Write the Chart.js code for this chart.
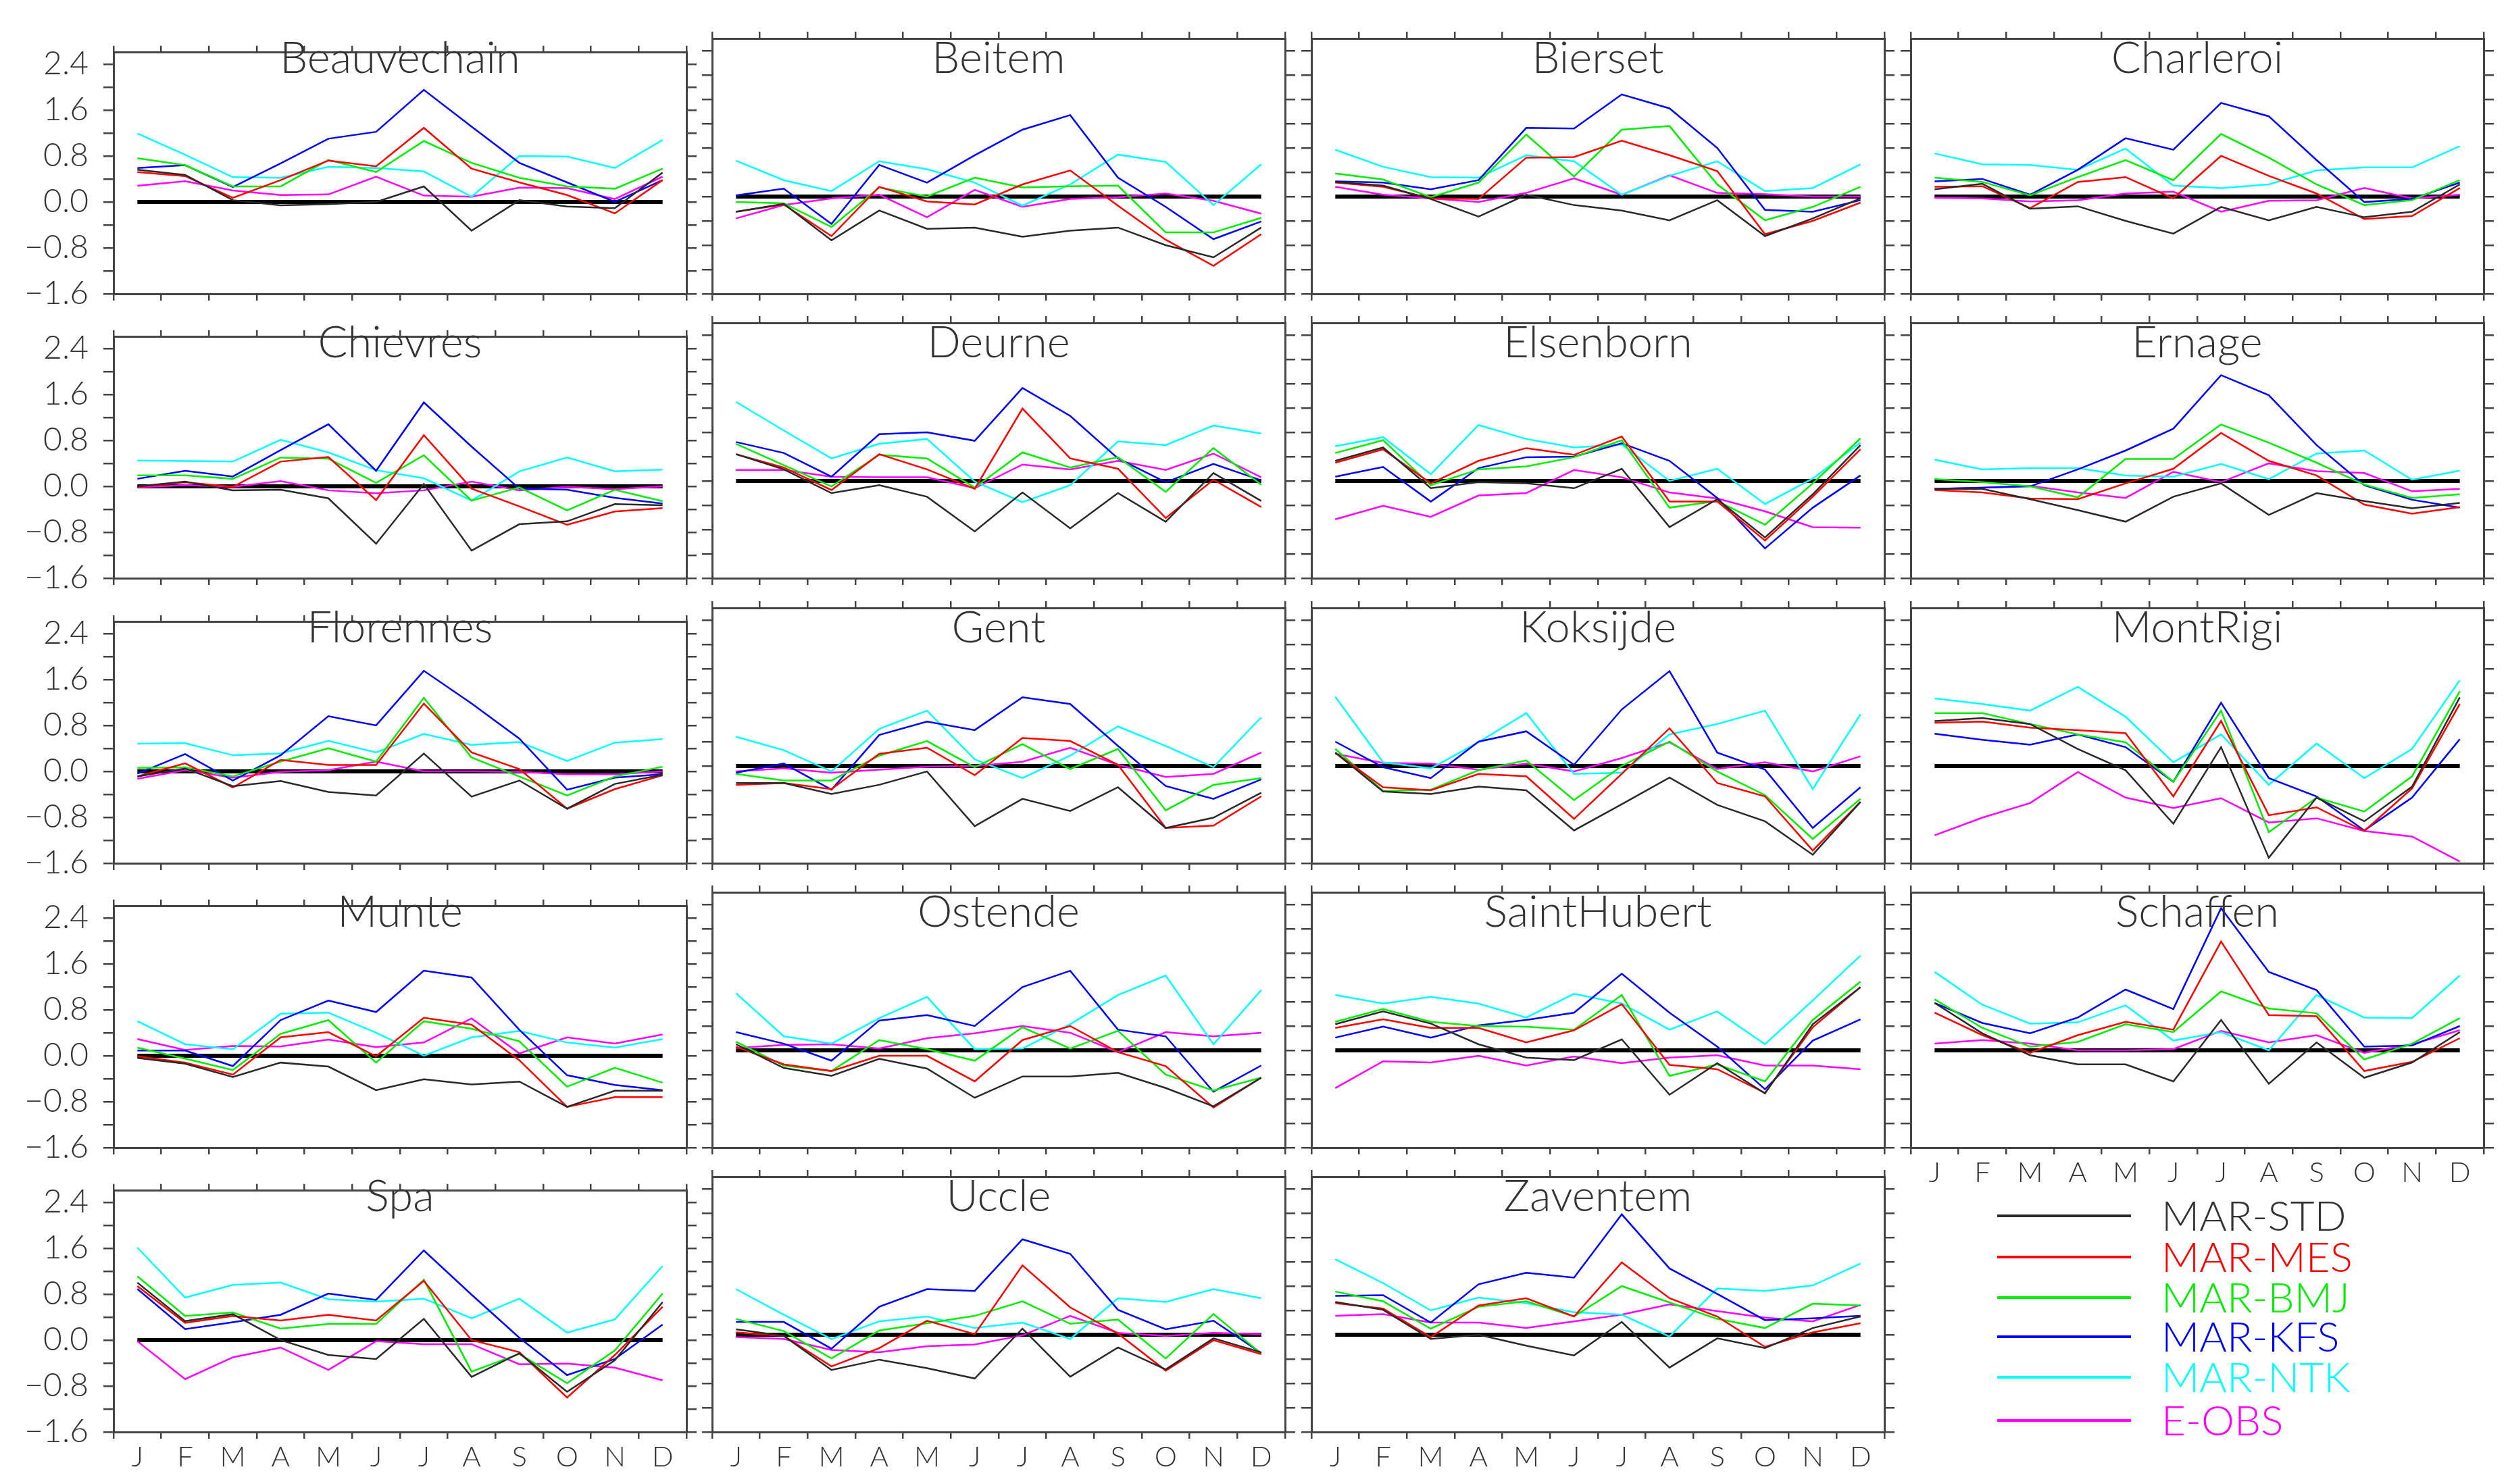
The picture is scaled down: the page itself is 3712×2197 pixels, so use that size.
<!DOCTYPE html>
<html>
<head>
<meta charset="utf-8">
<script src="https://cdn.jsdelivr.net/npm/chart.js@4.4.1/dist/chart.umd.min.js"></script>
<style>
  body { margin: 0; background: #fff; width: 3712px; height: 2197px; position: relative; overflow: hidden; font-family: Lato, "DejaVu Sans", sans-serif; }
  canvas { position: absolute; }
  .title { position: absolute; text-align: center; font-size: 65px; font-weight: 300; color: #333; line-height: 65px; white-space: nowrap; }
  .leg-line { position: absolute; height: 4px; }
  .leg-text { position: absolute; font-size: 62px; font-weight: 300; line-height: 62px; white-space: nowrap; }
</style>
</head>
<body>
<script>
const months = ['J', 'F', 'M', 'A', 'M', 'J', 'J', 'A', 'S', 'O', 'N', 'D'];
const seriesNames = ['MAR-STD', 'MAR-MES', 'MAR-BMJ', 'MAR-KFS', 'MAR-NTK', 'E-OBS'];
const seriesColors = ['#2a2a2a', '#ff0000', '#00ee00', '#0000ff', '#00ffff', '#ff00ff'];
const yTicks = [-1.6, -1.2, -0.8, -0.4, 0.0, 0.4, 0.8, 1.2, 1.6, 2.0, 2.4];
const zeroLine = [0, 0, 0, 0, 0, 0, 0, 0, 0, 0, 0, 0];
const stations = ['Beauvechain', 'Beitem', 'Bierset', 'Charleroi', 'Chievres', 'Deurne', 'Elsenborn', 'Ernage',
  'Florennes', 'Gent', 'Koksijde', 'MontRigi', 'Munte', 'Ostende', 'SaintHubert', 'Schaffen', 'Spa', 'Uccle', 'Zaventem'];

// rows: MAR-STD, MAR-MES, MAR-BMJ, MAR-KFS, MAR-NTK, E-OBS
const beauvechain = [
  [0.56, 0.47, 0.03, -0.06, -0.04, 0.00, 0.27, -0.50, 0.03, -0.08, -0.11, 0.51],
  [0.52, 0.45, 0.07, 0.38, 0.72, 0.62, 1.29, 0.58, 0.34, 0.12, -0.20, 0.38],
  [0.76, 0.64, 0.27, 0.27, 0.73, 0.52, 1.06, 0.68, 0.42, 0.27, 0.23, 0.58],
  [0.59, 0.64, 0.26, 0.67, 1.10, 1.22, 1.95, 1.31, 0.68, 0.34, 0.00, 0.38],
  [1.19, 0.82, 0.43, 0.42, 0.61, 0.59, 0.53, 0.09, 0.80, 0.79, 0.59, 1.08],
  [0.28, 0.36, 0.20, 0.12, 0.13, 0.44, 0.11, 0.09, 0.25, 0.24, 0.05, 0.44]
];
const beitem = [
  [-0.25, -0.12, -0.72, -0.23, -0.53, -0.51, -0.66, -0.56, -0.51, -0.80, -1.00, -0.51],
  [-0.25, -0.13, -0.65, 0.16, -0.08, -0.13, 0.20, 0.43, -0.15, -0.71, -1.14, -0.62],
  [-0.09, -0.11, -0.50, 0.15, 0.00, 0.31, 0.15, 0.17, 0.18, -0.59, -0.59, -0.35],
  [0.02, 0.13, -0.45, 0.52, 0.23, 0.68, 1.10, 1.34, 0.31, -0.17, -0.70, -0.41],
  [0.59, 0.27, 0.09, 0.58, 0.45, 0.23, -0.15, 0.20, 0.69, 0.57, -0.14, 0.53],
  [-0.36, -0.14, -0.03, 0.03, -0.34, 0.11, -0.17, -0.04, -0.01, 0.05, -0.07, -0.28]
];
const bierset = [
  [0.24, 0.18, -0.04, -0.33, 0.03, -0.14, -0.23, -0.39, -0.06, -0.65, -0.36, -0.03],
  [0.23, 0.16, -0.03, -0.04, 0.64, 0.65, 0.92, 0.68, 0.42, -0.62, -0.40, -0.10],
  [0.38, 0.28, -0.01, 0.23, 1.02, 0.33, 1.10, 1.16, 0.20, -0.39, -0.17, 0.16],
  [0.25, 0.23, 0.12, 0.27, 1.13, 1.12, 1.68, 1.45, 0.80, -0.22, -0.25, -0.06],
  [0.77, 0.49, 0.32, 0.31, 0.68, 0.58, 0.03, 0.34, 0.58, 0.09, 0.14, 0.53],
  [0.16, 0.03, -0.03, -0.09, 0.06, 0.30, 0.03, 0.35, 0.06, 0.04, 0.00, 0.00]
];
const charleroi = [
  [0.12, 0.21, -0.20, -0.16, -0.40, -0.61, -0.17, -0.39, -0.17, -0.34, -0.25, 0.20],
  [0.16, 0.17, -0.19, 0.24, 0.32, -0.03, 0.67, 0.34, 0.05, -0.37, -0.32, 0.14],
  [0.31, 0.24, 0.02, 0.32, 0.60, 0.27, 1.03, 0.64, 0.20, -0.14, -0.06, 0.27],
  [0.25, 0.29, 0.03, 0.44, 0.96, 0.77, 1.54, 1.32, 0.60, -0.09, -0.04, 0.23],
  [0.71, 0.53, 0.52, 0.44, 0.79, 0.18, 0.14, 0.20, 0.43, 0.48, 0.48, 0.83],
  [-0.02, -0.03, -0.08, -0.06, 0.05, 0.08, -0.25, -0.07, -0.06, 0.14, -0.03, 0.03]
];
const chievres = [
  [0.00, 0.08, -0.07, -0.06, -0.21, -1.00, 0.04, -1.12, -0.66, -0.61, -0.31, -0.33],
  [-0.01, 0.07, -0.01, 0.43, 0.51, -0.24, 0.89, -0.04, -0.35, -0.67, -0.44, -0.38],
  [0.19, 0.19, 0.13, 0.50, 0.48, 0.06, 0.54, -0.25, -0.02, -0.42, -0.06, -0.26],
  [0.13, 0.27, 0.17, 0.63, 1.08, 0.27, 1.46, 0.69, -0.04, -0.06, -0.20, -0.30],
  [0.45, 0.44, 0.43, 0.81, 0.59, 0.28, 0.14, -0.25, 0.26, 0.50, 0.26, 0.29],
  [-0.02, 0.02, -0.01, 0.09, -0.07, -0.12, -0.07, 0.08, -0.07, -0.01, -0.05, 0.00]
];
const deurne = [
  [0.44, 0.19, -0.20, -0.07, -0.26, -0.83, -0.19, -0.78, -0.20, -0.67, 0.13, -0.33],
  [0.44, 0.22, -0.15, 0.44, 0.19, -0.13, 1.19, 0.37, 0.20, -0.61, 0.02, -0.43],
  [0.61, 0.26, -0.09, 0.43, 0.37, -0.11, 0.47, 0.22, 0.39, -0.18, 0.54, -0.06],
  [0.64, 0.46, 0.07, 0.77, 0.80, 0.66, 1.53, 1.07, 0.37, -0.02, 0.28, 0.01],
  [1.30, 0.83, 0.37, 0.61, 0.69, -0.01, -0.35, -0.07, 0.65, 0.59, 0.91, 0.78],
  [0.18, 0.18, 0.07, 0.06, 0.06, -0.12, 0.27, 0.19, 0.33, 0.18, 0.45, 0.06]
];
const elsenborn = [
  [0.33, 0.55, -0.12, -0.02, -0.04, -0.12, 0.20, -0.76, -0.30, -0.93, -0.22, 0.59],
  [0.30, 0.52, -0.04, 0.33, 0.54, 0.43, 0.73, -0.34, -0.34, -0.98, -0.26, 0.52],
  [0.46, 0.67, -0.07, 0.19, 0.24, 0.39, 0.67, -0.44, -0.33, -0.72, -0.04, 0.70],
  [0.07, 0.23, -0.34, 0.21, 0.39, 0.40, 0.62, 0.33, -0.28, -1.11, -0.44, 0.09],
  [0.57, 0.72, 0.11, 0.92, 0.69, 0.55, 0.60, 0.00, 0.20, -0.38, 0.04, 0.63],
  [-0.63, -0.41, -0.59, -0.24, -0.20, 0.18, 0.06, -0.19, -0.29, -0.50, -0.76, -0.77]
];
const ernage = [
  [-0.13, -0.13, -0.30, -0.48, -0.67, -0.26, -0.04, -0.56, -0.20, -0.33, -0.45, -0.36],
  [-0.15, -0.19, -0.29, -0.30, -0.04, 0.20, 0.79, 0.33, 0.09, -0.39, -0.54, -0.43],
  [0.03, -0.02, -0.09, -0.27, 0.36, 0.36, 0.93, 0.63, 0.30, -0.06, -0.28, -0.22],
  [-0.13, -0.11, -0.09, 0.19, 0.50, 0.86, 1.74, 1.41, 0.59, -0.07, -0.31, -0.44],
  [0.35, 0.19, 0.21, 0.21, 0.09, 0.07, 0.28, 0.03, 0.45, 0.50, 0.02, 0.17],
  [-0.13, -0.11, -0.08, -0.19, -0.28, 0.15, -0.02, 0.29, 0.16, 0.13, -0.17, -0.13]
];
const florennes = [
  [-0.09, 0.05, -0.26, -0.17, -0.36, -0.42, 0.31, -0.44, -0.16, -0.65, -0.22, -0.06],
  [-0.09, 0.14, -0.28, 0.20, 0.11, 0.11, 1.18, 0.33, 0.04, -0.65, -0.31, -0.07],
  [0.06, 0.07, -0.09, 0.17, 0.40, 0.17, 1.28, 0.24, -0.09, -0.42, -0.09, 0.08],
  [-0.04, 0.30, -0.16, 0.28, 0.96, 0.80, 1.75, 1.18, 0.57, -0.32, -0.11, -0.05],
  [0.48, 0.49, 0.28, 0.31, 0.53, 0.33, 0.65, 0.46, 0.51, 0.18, 0.50, 0.56],
  [-0.13, 0.02, -0.11, -0.01, 0.02, 0.17, 0.00, 0.00, -0.01, -0.05, -0.05, 0.00]
];
const gent = [
  [-0.28, -0.28, -0.46, -0.31, -0.09, -0.99, -0.54, -0.74, -0.35, -1.02, -0.85, -0.44],
  [-0.31, -0.28, -0.38, 0.20, 0.30, -0.15, 0.46, 0.41, 0.02, -1.02, -0.98, -0.50],
  [-0.13, -0.24, -0.24, 0.17, 0.41, -0.02, 0.36, -0.05, 0.28, -0.73, -0.31, -0.20],
  [-0.11, 0.04, -0.39, 0.51, 0.73, 0.59, 1.13, 1.02, 0.33, -0.33, -0.54, -0.22],
  [0.48, 0.26, -0.09, 0.61, 0.91, 0.11, -0.20, 0.17, 0.65, 0.33, -0.02, 0.80],
  [-0.09, -0.04, -0.11, -0.06, -0.01, 0.00, 0.07, 0.30, 0.02, -0.18, -0.13, 0.22]
];
const koksijde = [
  [0.22, -0.42, -0.46, -0.34, -0.40, -1.06, -0.63, -0.19, -0.64, -0.91, -1.46, -0.59],
  [0.22, -0.35, -0.40, -0.13, -0.17, -0.87, -0.13, 0.62, -0.28, -0.50, -1.39, -0.59],
  [0.28, -0.41, -0.39, -0.07, 0.09, -0.56, 0.00, 0.40, -0.09, -0.48, -1.20, -0.54],
  [0.40, -0.02, -0.20, 0.40, 0.57, 0.02, 0.93, 1.56, 0.22, -0.06, -1.02, -0.35],
  [1.14, 0.06, -0.04, 0.39, 0.87, -0.13, -0.11, 0.52, 0.69, 0.91, -0.38, 0.85],
  [0.20, 0.05, 0.04, -0.06, 0.04, -0.09, 0.13, 0.39, -0.05, 0.06, -0.09, 0.16]
];
const montRigi = [
  [0.74, 0.79, 0.69, 0.28, -0.07, -0.95, 0.31, -1.51, -0.52, -0.91, -0.34, 1.13],
  [0.71, 0.73, 0.63, 0.59, 0.54, -0.50, 0.74, -0.81, -0.68, -1.07, -0.37, 1.02],
  [0.87, 0.87, 0.69, 0.52, 0.39, -0.26, 0.91, -1.09, -0.52, -0.75, -0.17, 1.23],
  [0.53, 0.43, 0.35, 0.52, 0.31, -0.26, 1.04, -0.20, -0.50, -1.06, -0.52, 0.44],
  [1.11, 1.02, 0.91, 1.30, 0.81, 0.06, 0.52, -0.31, 0.37, -0.20, 0.28, 1.41],
  [-1.14, -0.85, -0.61, -0.10, -0.52, -0.69, -0.53, -0.93, -0.86, -1.07, -1.16, -1.57]
];
const munte = [
  [-0.04, -0.14, -0.37, -0.12, -0.19, -0.60, -0.41, -0.50, -0.45, -0.89, -0.61, -0.61],
  [-0.01, -0.12, -0.33, 0.32, 0.41, -0.01, 0.66, 0.54, -0.08, -0.89, -0.72, -0.72],
  [0.14, -0.05, -0.25, 0.38, 0.62, -0.12, 0.60, 0.47, 0.25, -0.54, -0.21, -0.47],
  [0.09, 0.09, -0.18, 0.62, 0.96, 0.76, 1.48, 1.36, 0.45, -0.34, -0.51, -0.60],
  [0.60, 0.20, 0.11, 0.73, 0.75, 0.40, 0.00, 0.32, 0.43, 0.23, 0.14, 0.29],
  [0.29, 0.10, 0.17, 0.16, 0.28, 0.15, 0.23, 0.65, 0.04, 0.32, 0.21, 0.37]
];
const ostende = [
  [0.10, -0.29, -0.42, -0.14, -0.30, -0.78, -0.43, -0.43, -0.37, -0.62, -0.92, -0.45],
  [0.06, -0.23, -0.34, -0.09, -0.09, -0.51, 0.17, 0.40, -0.03, -0.26, -0.94, -0.45],
  [0.14, -0.25, -0.34, 0.17, 0.02, -0.17, 0.38, 0.03, 0.32, -0.40, -0.66, -0.45],
  [0.30, 0.11, -0.17, 0.49, 0.58, 0.40, 1.04, 1.31, 0.34, 0.23, -0.68, -0.25],
  [0.94, 0.23, 0.11, 0.53, 0.88, 0.02, 0.03, 0.43, 0.91, 1.23, 0.10, 0.99],
  [0.04, 0.09, 0.10, 0.03, 0.20, 0.28, 0.40, 0.29, -0.03, 0.30, 0.23, 0.29]
];
const saintHubert = [
  [0.43, 0.64, 0.44, 0.10, -0.12, -0.16, 0.18, -0.73, -0.21, -0.71, 0.43, 1.04],
  [0.37, 0.51, 0.37, 0.37, 0.13, 0.33, 0.76, -0.24, -0.31, -0.70, 0.38, 1.04],
  [0.47, 0.68, 0.47, 0.40, 0.39, 0.34, 0.91, -0.42, -0.23, -0.51, 0.50, 1.13],
  [0.21, 0.39, 0.21, 0.41, 0.50, 0.62, 1.26, 0.62, 0.06, -0.64, 0.16, 0.51],
  [0.91, 0.77, 0.88, 0.77, 0.54, 0.93, 0.77, 0.34, 0.64, 0.10, 0.82, 1.56],
  [-0.62, -0.18, -0.20, -0.09, -0.25, -0.10, -0.21, -0.12, -0.08, -0.25, -0.25, -0.31]
];
const schaffen = [
  [0.78, 0.28, -0.08, -0.23, -0.23, -0.51, 0.50, -0.55, 0.13, -0.45, -0.20, 0.30],
  [0.62, 0.25, -0.04, 0.25, 0.47, 0.34, 1.79, 0.58, 0.56, -0.34, -0.19, 0.20],
  [0.84, 0.37, 0.06, 0.14, 0.43, 0.30, 0.97, 0.69, 0.61, -0.15, 0.11, 0.53],
  [0.78, 0.45, 0.28, 0.54, 1.00, 0.68, 2.34, 1.29, 0.99, 0.06, 0.08, 0.40],
  [1.29, 0.75, 0.44, 0.46, 0.74, 0.16, 0.30, 0.00, 0.91, 0.54, 0.53, 1.23],
  [0.11, 0.17, 0.11, 0.00, 0.00, 0.02, 0.32, 0.13, 0.25, -0.04, 0.10, 0.33]
];
const spa = [
  [1.00, 0.33, 0.45, 0.00, -0.26, -0.33, 0.37, -0.64, -0.23, -0.90, -0.35, 0.66],
  [0.94, 0.30, 0.42, 0.34, 0.44, 0.34, 1.03, 0.00, -0.21, -1.00, -0.26, 0.58],
  [1.11, 0.42, 0.48, 0.20, 0.28, 0.28, 1.05, -0.55, -0.24, -0.75, -0.18, 0.81],
  [0.89, 0.19, 0.31, 0.44, 0.81, 0.70, 1.56, 0.79, 0.04, -0.61, -0.33, 0.27],
  [1.61, 0.74, 0.96, 1.00, 0.71, 0.67, 0.72, 0.38, 0.72, 0.13, 0.36, 1.29],
  [-0.02, -0.68, -0.30, -0.13, -0.52, -0.02, -0.07, -0.07, -0.42, -0.41, -0.48, -0.70]
];
const uccle = [
  [0.09, -0.02, -0.58, -0.41, -0.55, -0.72, 0.10, -0.69, -0.21, -0.57, -0.06, -0.29],
  [0.04, -0.02, -0.52, -0.22, 0.23, 0.01, 1.14, 0.45, 0.02, -0.59, -0.09, -0.32],
  [0.26, 0.06, -0.39, 0.07, 0.19, 0.31, 0.55, 0.18, 0.25, -0.39, 0.34, -0.31],
  [0.21, 0.21, -0.23, 0.46, 0.75, 0.72, 1.57, 1.33, 0.41, 0.09, 0.23, -0.30],
  [0.75, 0.33, -0.07, 0.22, 0.30, 0.11, 0.20, -0.07, 0.60, 0.54, 0.75, 0.60],
  [-0.04, -0.07, -0.25, -0.29, -0.19, -0.16, -0.01, 0.31, 0.03, -0.02, 0.03, 0.01]
];
const zaventem = [
  [0.54, 0.41, -0.07, 0.00, -0.18, -0.34, 0.21, -0.54, -0.06, -0.22, 0.11, 0.30],
  [0.52, 0.43, -0.04, 0.48, 0.60, 0.30, 1.19, 0.60, 0.30, -0.20, 0.04, 0.19],
  [0.71, 0.55, 0.10, 0.46, 0.55, 0.30, 0.80, 0.53, 0.26, 0.11, 0.51, 0.48],
  [0.64, 0.65, 0.20, 0.83, 1.02, 0.94, 1.98, 1.09, 0.67, 0.24, 0.27, 0.31],
  [1.24, 0.85, 0.40, 0.61, 0.52, 0.37, 0.33, -0.03, 0.76, 0.72, 0.81, 1.17],
  [0.31, 0.34, 0.20, 0.20, 0.11, 0.22, 0.33, 0.50, 0.39, 0.28, 0.22, 0.49]
];

const stationValues = [beauvechain, beitem, bierset, charleroi, chievres, deurne, elsenborn, ernage,
  florennes, gent, koksijde, montRigi, munte, ostende, saintHubert, schaffen, spa, uccle, zaventem];

// panel frames in page pixels
const colLeft = [168, 1054, 1941, 2828];
const rowTop = [57, 478, 900, 1321, 1742];
const panelW = 848, panelH = 378;
const padL = 170, padR = 30, padT = 30, padB = 70;
const frameColor = '#444';

Chart.defaults.font.family = 'Lato, "DejaVu Sans", sans-serif';
Chart.defaults.color = '#333';

function fmtY(v) {
    return (v < -1e-9 ? '\u2212' : '') + Math.abs(v).toFixed(1);
}

function xAxis(pos, showLabels, size) {
    return {
        type: 'category', position: pos, offset: true,
        grid: {drawOnChartArea: false, drawTicks: true, tickLength: 10, color: frameColor, lineWidth: 2.5, offset: true},
        border: {display: true, color: frameColor, width: 3},
        ticks: {display: showLabels, autoSkip: false, maxRotation: 0, padding: 2, color: '#333', font: {size: 42, weight: '300'}},
        afterFit: (s) => { s.height = size; }
    };
}

function yAxis(pos, showLabels, size) {
    return {
        type: 'linear', position: pos, min: -1.6, max: 2.6,
        afterBuildTicks: (s) => { s.ticks = yTicks.map((v) => ({value: v})); },
        grid: {drawOnChartArea: false, drawTicks: true, tickLength: 15, color: frameColor, lineWidth: 2.5},
        border: {display: true, color: frameColor, width: 3},
        ticks: {
            display: showLabels, autoSkip: false, padding: 22, color: '#333', font: {size: 48, weight: '300'},
            callback: (v) => (Math.round(v * 10) % 8 === 0 ? fmtY(v) : '')
        },
        afterFit: (s) => { s.width = size; }
    };
}

stations.forEach((name, k) => {
    let col = k % 4;
    let row = Math.floor(k / 4);
    let showY = col === 0;
    let showX = row === 4 || name === 'Schaffen';

    let canvas = document.createElement('canvas');
    canvas.width = panelW + padL + padR;
    canvas.height = panelH + padT + padB;
    canvas.style.left = (colLeft[col] - padL) + 'px';
    canvas.style.top = (rowTop[row] - padT) + 'px';
    document.body.appendChild(canvas);

    let datasets = stationValues[k].map((vals, i) => ({
        label: seriesNames[i],
        data: vals,
        borderColor: seriesColors[i],
        borderWidth: 2.5,
        pointRadius: 0,
        tension: 0,
        fill: false
    }));
    datasets.push({label: 'zero', data: zeroLine, borderColor: '#000', borderWidth: 6, pointRadius: 0});

    new Chart(canvas, {
        type: 'line',
        data: {labels: months, datasets: datasets},
        options: {
            responsive: false,
            animation: false,
            devicePixelRatio: 1,
            layout: {padding: 0},
            plugins: {legend: {display: false}, tooltip: {enabled: false}},
            scales: {
                x: xAxis('bottom', showX, padB),
                xt: xAxis('top', false, padT),
                y: yAxis('left', showY, padL),
                yr: yAxis('right', false, padR)
            }
        }
    });

    let title = document.createElement('div');
    title.className = 'title';
    title.textContent = name;
    title.style.left = colLeft[col] + 'px';
    title.style.width = panelW + 'px';
    title.style.top = (rowTop[row] - 6) + 'px';
    document.body.appendChild(title);
});

// legend in the empty bottom-right slot
const legendY = [1800, 1861, 1921, 1979, 2039, 2103];
seriesNames.forEach((label, i) => {
    let line = document.createElement('div');
    line.className = 'leg-line';
    line.style.left = '2956px';
    line.style.width = '198px';
    line.style.top = (legendY[i] - 2) + 'px';
    line.style.background = seriesColors[i];
    document.body.appendChild(line);

    let text = document.createElement('div');
    text.className = 'leg-text';
    text.textContent = label;
    text.style.left = '3199px';
    text.style.top = (legendY[i] - 33) + 'px';
    text.style.color = i === 0 ? '#333' : seriesColors[i];
    document.body.appendChild(text);
});
</script>
</body>
</html>
